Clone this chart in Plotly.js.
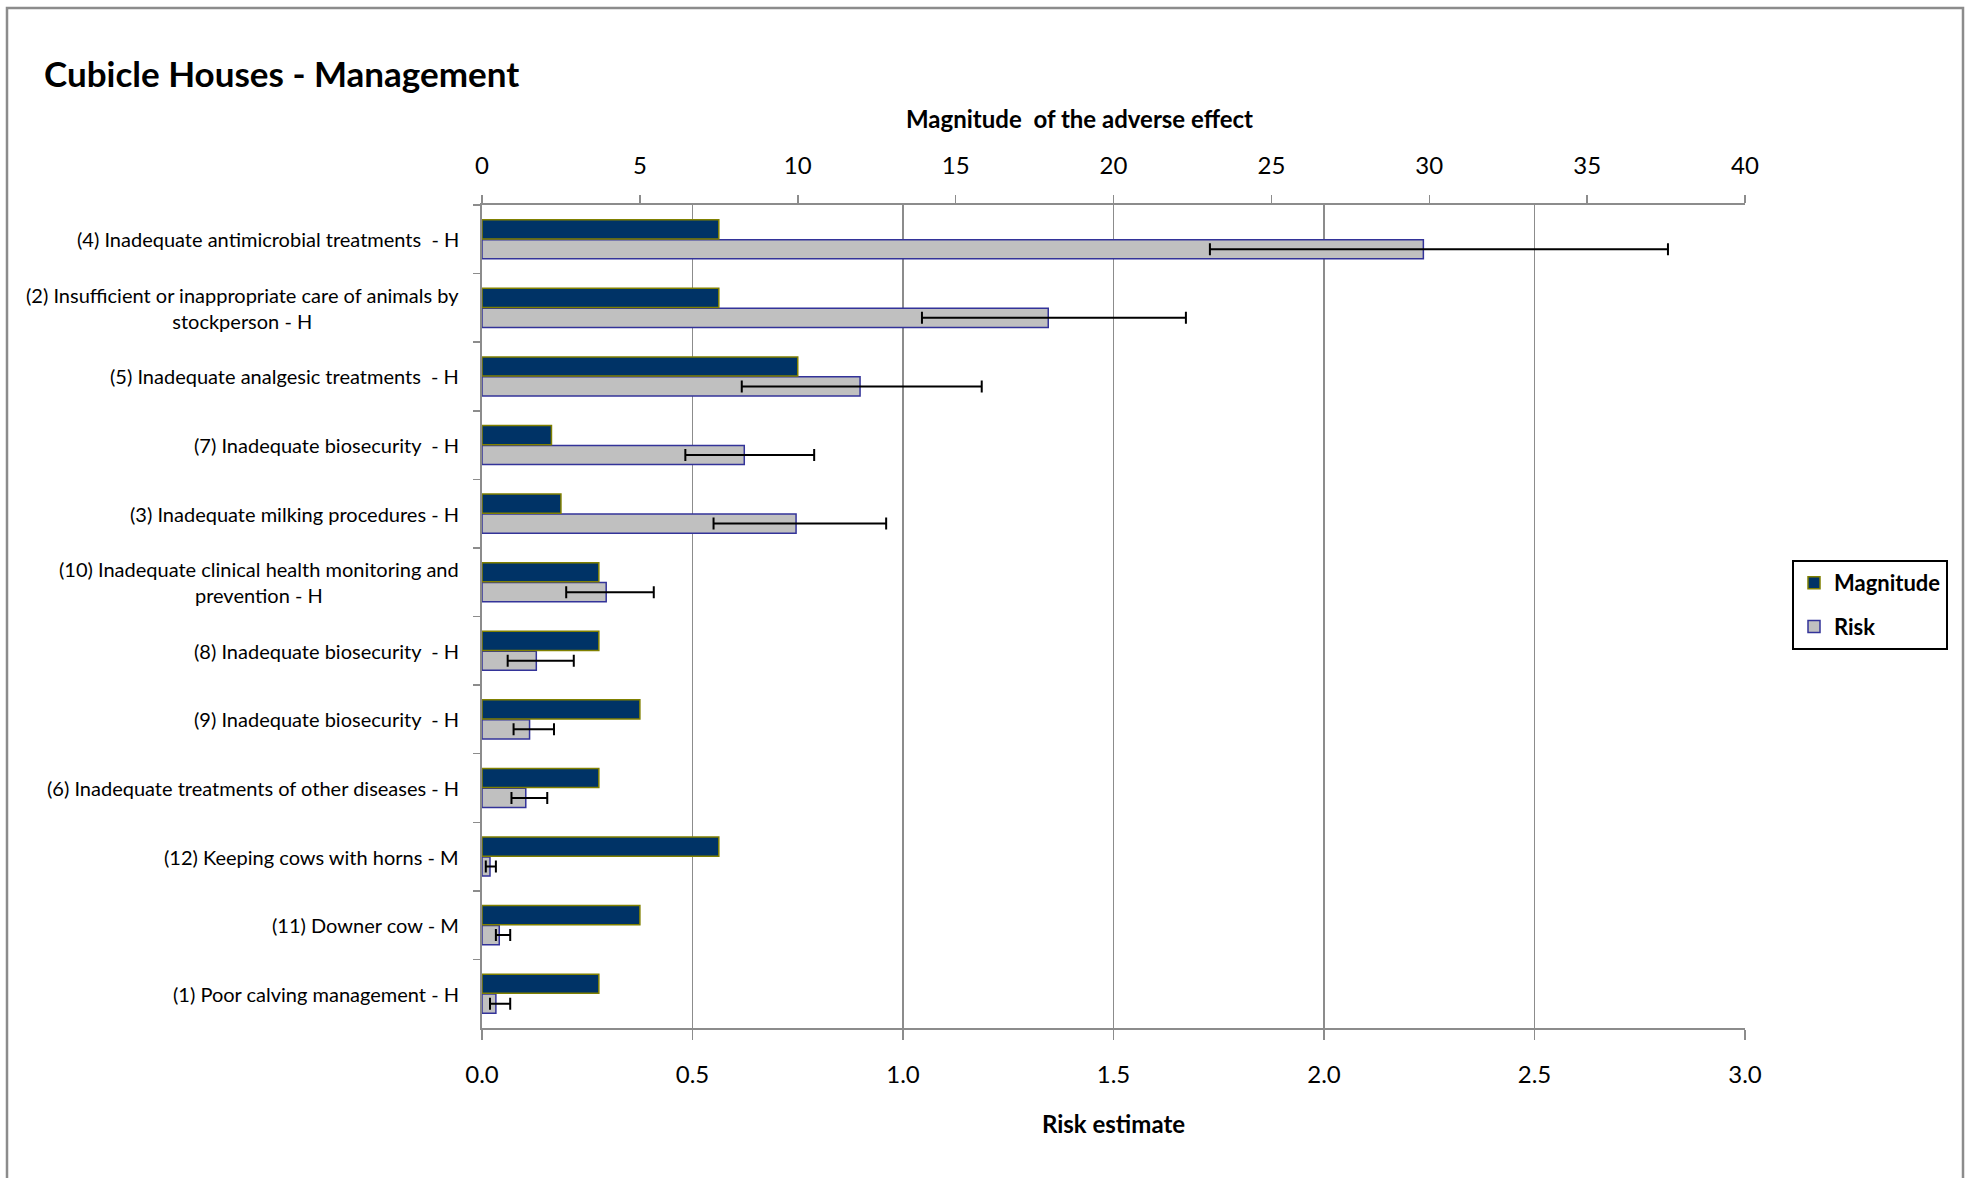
<!DOCTYPE html>
<html>
<head>
<meta charset="utf-8">
<script src="https://cdn.plot.ly/plotly-3.0.1.min.js"></script>
<style>
html,body{margin:0;padding:0;background:#fff;}
#chart{width:1970px;height:1178px;}
</style>
</head>
<body>
<div id="chart"></div>
<script>
// ---- Data ----
const categories = [
  "(4) Inadequate antimicrobial treatments  - H",
  "(2) Insufficient or inappropriate care of animals by<br>stockperson - H",
  "(5) Inadequate analgesic treatments  - H",
  "(7) Inadequate biosecurity  - H",
  "(3) Inadequate milking procedures - H",
  "(10) Inadequate clinical health monitoring and<br>prevention - H",
  "(8) Inadequate biosecurity  - H",
  "(9) Inadequate biosecurity  - H",
  "(6) Inadequate treatments of other diseases - H",
  "(12) Keeping cows with horns - M",
  "(11) Downer cow - M",
  "(1) Poor calving management - H"
];
const magnitude = [7.5, 7.5, 10, 2.2, 2.5, 3.7, 3.7, 5, 3.7, 7.5, 5, 3.7];
const risk      = [2.236, 1.345, 0.898, 0.623, 0.746, 0.295, 0.129, 0.113, 0.104, 0.019, 0.041, 0.033];
const riskLower = [1.729, 1.045, 0.617, 0.483, 0.550, 0.200, 0.061, 0.075, 0.070, 0.009, 0.033, 0.019];
const riskUpper = [2.817, 1.672, 1.187, 0.789, 0.960, 0.408, 0.218, 0.171, 0.155, 0.033, 0.067, 0.067];
const magnitudeTicks = [0, 5, 10, 15, 20, 25, 30, 35, 40];
const riskTicks = [0, 0.5, 1.0, 1.5, 2.0, 2.5, 3.0];

const FONT = "Lato, 'Open Sans', sans-serif";
const GRID = "#8c8c8c";

// plot-area pixel geometry
const L = 482, R = 225, T = 205, B = 150;
const W = 1970, H = 1178;
const pw = W - L - R, ph = H - T - B;
const px = x => (x - L) / pw;
const py = y => (H - B - y) / ph;

const traceMag = {
  type: "bar", orientation: "h", name: "Magnitude",
  x: magnitude, y: categories, xaxis: "x2", yaxis: "y",
  width: 0.28, offset: -0.285,
  marker: {color: "#003366", line: {color: "#808000", width: 1.5}},
  legendgroup: "a", legendrank: 1, hoverinfo: "x+y"
};
const traceRisk = {
  type: "bar", orientation: "h", name: "Risk",
  x: risk, y: categories, xaxis: "x", yaxis: "y",
  width: 0.28, offset: 0.005,
  marker: {color: "#C0C0C0", line: {color: "#333399", width: 1.5}},
  error_x: {
    type: "data", symmetric: false,
    array: riskUpper.map((u, i) => u - risk[i]),
    arrayminus: risk.map((v, i) => v - riskLower[i]),
    color: "#000", thickness: 2, width: 6
  },
  legendgroup: "b", legendrank: 2, hoverinfo: "x+y"
};

const labelAnnotations = categories.map(c => ({
  text: c, x: 0, xref: "paper", y: c, yref: "y",
  xanchor: "right", yanchor: "middle", align: "center", xshift: -21,
  showarrow: false, font: {family: FONT, size: 20, color: "#000"}
}));

const layout = {
  width: W, height: H,
  margin: {l: L, r: R, t: T, b: B, pad: 0},
  paper_bgcolor: "#fff", plot_bgcolor: "#fff",
  font: {family: FONT, color: "#000"},
  showlegend: true,
  title: {
    text: "Cubicle Houses - Management",
    x: 44 / W, xanchor: "left", xref: "container",
    y: 1 - 75 / H, yanchor: "middle", yref: "container",
    font: {family: FONT, size: 35, weight: 700, color: "#000"}
  },
  xaxis: {
    range: [0, 3], tickvals: riskTicks, tickformat: ".1f",
    showgrid: true, gridcolor: GRID, gridwidth: 1.5,
    showline: true, linecolor: GRID, linewidth: 2,
    ticks: "outside", ticklen: 10, tickwidth: 1.5, tickcolor: GRID,
    ticklabelstandoff: 14,
    zeroline: false,
    tickfont: {family: FONT, size: 24, color: "#000"},
    title: {text: "Risk estimate", standoff: 29,
            font: {family: FONT, size: 24, weight: 700, color: "#000"}}
  },
  xaxis2: {
    overlaying: "x", side: "top", anchor: "y",
    range: [0, 40], tickvals: magnitudeTicks,
    showgrid: false, showline: true, linecolor: GRID, linewidth: 2,
    ticks: "outside", ticklen: 8, tickwidth: 1.5, tickcolor: GRID,
    ticklabelstandoff: 11,
    zeroline: false,
    tickfont: {family: FONT, size: 24, color: "#000"}
  },
  yaxis: {
    type: "category", autorange: "reversed",
    showticklabels: false, showgrid: false,
    showline: true, linecolor: GRID, linewidth: 2,
    ticks: "outside", tickson: "boundaries", ticklen: 7, tickwidth: 1.5, tickcolor: GRID,
    zeroline: false
  },
  legend: {
    x: px(1792), xanchor: "left", y: py(560), yanchor: "top",
    bordercolor: "#000", borderwidth: 2, bgcolor: "#fff",
    traceorder: "grouped", tracegroupgap: 12, itemwidth: 30,
    font: {family: FONT, size: 22, weight: 700, color: "#000"}
  },
  annotations: labelAnnotations.concat([{
    text: "Magnitude  of the adverse effect",
    x: px(1079), xref: "paper", y: py(119), yref: "paper",
    xanchor: "center", yanchor: "middle", showarrow: false,
    font: {family: FONT, size: 24, weight: 700, color: "#000"}
  }]),
  shapes: [{
    type: "rect", xref: "paper", yref: "paper",
    x0: px(7), x1: px(1963), y0: py(1200), y1: py(8),
    line: {color: "#8c8c8c", width: 2.5}, fillcolor: "rgba(0,0,0,0)", layer: "below"
  }]
};

Plotly.newPlot("chart", [traceRisk, traceMag], layout, {displayModeBar: false, staticPlot: true});
</script>
</body>
</html>
